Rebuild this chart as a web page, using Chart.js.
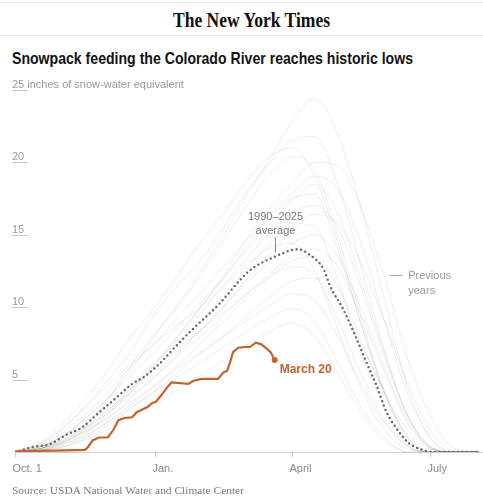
<!DOCTYPE html>
<html><head><meta charset="utf-8">
<script src="https://cdn.jsdelivr.net/npm/chart.js@4.4.1/dist/chart.umd.min.js"></script>
<style>
html,body{margin:0;padding:0;background:#fff;width:483px;height:499px;overflow:hidden;}
#wrap{position:relative;width:483px;height:499px;}
.t{position:absolute;white-space:nowrap;transform-origin:0 0;}
#c{position:absolute;left:0;top:0;}
</style></head><body>
<div id="wrap">
<div style="position:absolute;left:0;top:2px;width:483px;height:1px;background:#e4e4e4"></div>
<div class="t" id="logo" style="left:173px;top:8px;font:bold 21px/24px 'Liberation Serif',serif;color:#111;">The New York Times</div>
<div style="position:absolute;left:0;top:35px;width:483px;height:1px;background:#e4e4e4"></div>
<div class="t" id="title" style="left:12px;top:49px;font:bold 17px/20px 'Liberation Sans',Arial,sans-serif;color:#121212">Snowpack feeding the Colorado River reaches historic lows</div>
<canvas id="c" width="483" height="499"></canvas>
<div class="t" id="src" style="left:12px;top:484px;font:11px/13px 'Liberation Serif',serif;color:#7a7a7a">Source: USDA National Water and Climate Center</div>
</div>
<script>
// ---- data ----
const yTickValues = [5, 10, 15, 20, 25];
const yTickLabels = ['5', '10', '15', '20', '25 inches of snow-water equivalent'];
const monthTickDays = [0, 92, 182, 273];
const monthTickLabels = ['Oct. 1', 'Jan.', 'April', 'July'];

// current season (days since Oct. 1)
const currentDays = [0, 27, 46, 48, 51, 55, 61, 64.5, 68, 72, 77, 80, 83, 87, 90.5, 92.5, 96.4, 101, 103, 114, 117, 122.5, 133.5, 137, 139.4, 141.4, 143.3, 146.6, 151, 154.4, 158.3, 161.6, 164.8, 168, 170.7];
const currentValues = [0.05, 0.1, 0.15, 0.35, 0.8, 1.0, 1.0, 1.5, 2.2, 2.35, 2.4, 2.75, 2.9, 3.1, 3.4, 3.45, 3.95, 4.6, 4.8, 4.7, 4.9, 5.05, 5.05, 5.5, 5.6, 6.2, 6.9, 7.2, 7.25, 7.25, 7.55, 7.45, 7.2, 6.9, 6.35];

// 1990-2025 average
const averageDays = [0, 12, 23, 34, 44, 55, 66, 77, 85, 95, 103, 116, 134, 149, 155, 171, 186, 194, 203, 207, 216, 225, 231, 238, 244, 251, 259, 268, 275, 290, 305];
const averageValues = [0, 0.35, 0.55, 1.2, 1.7, 2.7, 3.7, 4.7, 5.2, 6.1, 7.0, 8.4, 10.2, 12.0, 12.6, 13.5, 14.0, 13.6, 12.6, 11.5, 9.8, 7.7, 6.2, 4.5, 2.8, 1.6, 0.6, 0.15, 0, 0, 0];

// previous years (sampled)
const previousDays = [0, 15, 30, 45, 60, 75, 92, 107, 122, 137, 151, 166, 182, 197, 212, 227, 243, 258, 273, 288, 305];
const previousYears = [
  [0,0.3,1.0,2.2,3.6,5.5,8.0,10.2,12.5,15.0,17.5,20.0,22.8,24.4,22.0,17.0,10.5,4.5,1.0,0,0],
  [0,0.5,1.5,3.0,4.8,6.8,9.6,11.5,13.2,15.5,17.8,19.8,21.5,21.8,18.5,13.0,7.0,2.5,0.4,0,0],
  [0,0.2,0.8,1.8,3.5,5.8,8.2,10.0,12.2,14.6,16.8,19.0,20.4,19.5,15.0,9.5,4.0,0.8,0,0,0],
  [0,0.1,0.5,1.2,2.5,4.0,6.0,8.0,10.0,12.0,14.0,16.2,17.8,19.0,18.2,14.5,9.0,4.0,1.0,0,0],
  [0,0.4,1.2,2.5,4.0,5.8,7.5,9.3,11.0,12.8,14.5,16.0,17.5,17.8,14.0,9.0,4.2,1.0,0,0,0],
  [0,0.1,0.6,1.5,2.8,4.2,6.0,7.8,9.6,11.5,13.2,15.0,16.5,17.0,15.5,11.5,6.5,2.5,0.3,0,0],
  [0,0.3,1.0,2.0,3.2,4.5,6.2,7.6,9.0,10.8,12.5,14.2,15.8,15.5,12.0,7.0,3.0,0.5,0,0,0],
  [0,0.2,0.7,1.6,2.8,4.0,5.5,7.0,8.4,10.0,11.6,13.0,14.4,15.0,13.5,10.0,5.8,2.2,0.3,0,0],
  [0,0.5,1.5,3.0,4.5,6.0,7.5,8.8,10.0,11.4,12.8,14.0,14.4,12.5,8.5,4.5,1.5,0.2,0,0,0],
  [0,0.1,0.4,1.0,2.0,3.2,4.6,6.0,7.5,9.0,10.5,12.0,13.2,13.5,11.5,7.8,4.0,1.2,0,0,0],
  [0,0.3,0.9,1.8,3.0,4.3,5.8,7.2,8.4,9.6,10.8,12.0,12.8,12.2,9.2,5.5,2.2,0.4,0,0,0],
  [0,0.1,0.3,0.9,1.8,2.9,4.2,5.5,6.8,8.0,9.3,10.6,11.8,12.0,10.5,7.5,4.2,1.5,0.2,0,0],
  [0,0.2,0.7,1.4,2.3,3.4,4.6,5.8,6.9,8.0,9.0,10.0,10.9,10.5,8.0,4.8,2.0,0.4,0,0,0],
  [0,0.1,0.5,1.1,2.0,3.0,4.2,5.2,6.2,7.2,8.2,9.2,9.9,9.0,6.2,3.2,1.0,0,0,0,0],
  [0,0.1,0.3,0.8,1.5,2.3,3.3,4.3,5.3,6.3,7.3,8.2,8.9,8.0,5.5,2.8,0.8,0,0,0,0],
  [0,0.2,0.6,1.4,2.6,4.2,6.2,8.0,10.0,12.2,14.5,16.6,18.5,20.0,19.8,17.0,12.0,6.5,2.5,0.3,0],
  [0,0.2,0.8,1.6,2.6,3.8,5.2,6.8,8.4,10.0,11.8,13.5,15.2,16.4,15.8,13.2,9.0,4.8,1.5,0.1,0],
  [0,0.6,1.8,3.5,5.5,7.8,10.0,12.2,14.5,16.5,18.5,20.3,21.0,19.0,14.5,9.0,4.0,1.0,0,0,0],
  [0,0.2,0.6,1.3,2.3,3.6,5.2,6.6,8.0,9.4,10.8,12.2,13.5,14.0,12.8,9.5,5.5,2.0,0.3,0,0],
  [0,0.3,1.0,2.2,3.6,5.2,7.0,8.6,10.3,12.0,13.8,15.6,17.3,18.5,16.5,12.0,6.8,2.6,0.4,0,0]
];

// ---- fit header texts ----
function fitWidth(id, w) {
  const el = document.getElementById(id);
  const r = el.getBoundingClientRect().width;
  el.style.transform = 'scaleX(' + (w / r) + ')';
}
fitWidth('logo', 157);
fitWidth('title', 401);
fitWidth('src', 232);

const zip = (xs, ys) => xs.map((x, i) => ({x: x, y: ys[i]}));

const datasets = [];
datasets.push({
  label: 'Current', data: zip(currentDays, currentValues),
  borderColor: '#c4622d', borderWidth: 2.2, tension: 0,
  pointRadius: ctx => ctx.dataIndex === currentDays.length - 1 ? 3 : 0,
  pointBackgroundColor: '#c4622d', pointBorderWidth: 0
});
datasets.push({
  label: 'Average', data: zip(averageDays, averageValues),
  borderColor: '#666', borderWidth: 2.4, borderDash: [0, 4.6], borderCapStyle: 'round',
  cubicInterpolationMode: 'monotone', pointRadius: 0
});
previousYears.forEach((vals, i) => {
  datasets.push({
    label: 'Prev ' + i, data: zip(previousDays, vals),
    borderColor: 'rgba(0,0,0,0.075)', borderWidth: 1,
    cubicInterpolationMode: 'monotone', pointRadius: 0
  });
});

const decor = {
  id: 'decor',
  beforeDatasetsDraw(chart) {
    const ctx = chart.ctx, xs = chart.scales.x, ys = chart.scales.y;
    ctx.save();
    // y labels
    ctx.font = '11px "Liberation Sans", Arial, sans-serif';
    ctx.textBaseline = 'alphabetic';
    ctx.textAlign = 'left';
    yTickValues.forEach((v, i) => {
      const py = Math.round(ys.getPixelForValue(v)) + 0.5;
      ctx.strokeStyle = '#c4c4c4'; ctx.lineWidth = 1;
      ctx.beginPath(); ctx.moveTo(12, py); ctx.lineTo(28, py); ctx.stroke();
      ctx.fillStyle = '#9a9a9a';
      ctx.fillText(yTickLabels[i], 12, py - 3);
    });
    // baseline
    const by = Math.round(ys.getPixelForValue(0)) + 0.5;
    ctx.strokeStyle = '#cfcfcf'; ctx.lineWidth = 1;
    ctx.beginPath(); ctx.moveTo(xs.getPixelForValue(0), by); ctx.lineTo(483, by); ctx.stroke();
    monthTickDays.forEach((d, i) => {
      const px = Math.round(xs.getPixelForValue(d)) + 0.5;
      ctx.beginPath(); ctx.moveTo(px, by - 1); ctx.lineTo(px, by + 5); ctx.stroke();
      ctx.fillStyle = '#8a8a8a';
      ctx.fillText(monthTickLabels[i], px - 3, by + 19);
    });
    ctx.restore();
  },
  afterDatasetsDraw(chart) {
    const ctx = chart.ctx, xs = chart.scales.x, ys = chart.scales.y;
    ctx.save();
    // average label
    const ad = 171;
    const ax = Math.round(xs.getPixelForValue(ad)) + 0.5;
    const avy = ys.getPixelForValue(13.5);
    ctx.font = '11px "Liberation Sans", Arial, sans-serif';
    ctx.textAlign = 'center'; ctx.textBaseline = 'alphabetic';
    ctx.fillStyle = '#7a7a7a';
    ctx.fillText('1990\u20132025', ax, avy - 37);
    ctx.fillText('average', ax, avy - 23);
    ctx.strokeStyle = '#888'; ctx.lineWidth = 1;
    ctx.beginPath(); ctx.moveTo(ax, avy - 19); ctx.lineTo(ax, avy - 4); ctx.stroke();
    // previous years label
    const px0 = xs.getPixelForValue(246), py0 = Math.round(ys.getPixelForValue(12.2)) + 0.5;
    ctx.strokeStyle = '#aaa';
    ctx.beginPath(); ctx.moveTo(px0, py0); ctx.lineTo(px0 + 13, py0); ctx.stroke();
    ctx.textAlign = 'left'; ctx.textBaseline = 'middle';
    ctx.fillStyle = '#9a9a9a';
    ctx.fillText('Previous', px0 + 19, py0);
    ctx.fillText('years', px0 + 19, py0 + 15);
    // March 20 label
    const lx = xs.getPixelForValue(currentDays[currentDays.length - 1]);
    const ly = ys.getPixelForValue(currentValues[currentValues.length - 1]);
    ctx.font = 'bold 12px "Liberation Sans Narrow", "Liberation Sans", Arial, sans-serif';
    ctx.fillStyle = '#c4622d';
    ctx.textBaseline = 'alphabetic';
    ctx.fillText('March 20', lx + 5, ly + 13);
    ctx.restore();
  }
};

new Chart(document.getElementById('c'), {
  type: 'line',
  data: { datasets: datasets },
  options: {
    responsive: false, animation: false, devicePixelRatio: 1,
    layout: { padding: { left: 15, right: 0, top: 90, bottom: 47 } },
    plugins: { legend: { display: false }, tooltip: { enabled: false } },
    scales: {
      x: { type: 'linear', min: 0, max: 305, display: false },
      y: { type: 'linear', min: 0, max: 25, display: false }
    }
  },
  plugins: [decor]
});
</script>
</body></html>
